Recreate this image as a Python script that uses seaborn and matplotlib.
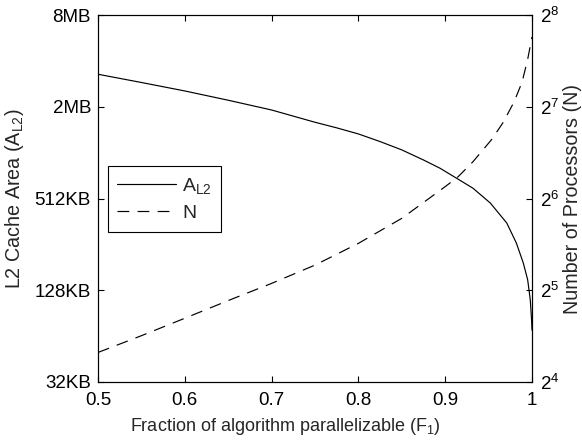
import matplotlib
matplotlib.use("Agg")
import matplotlib.pyplot as plt
import pandas as pd
import seaborn as sns

# L2 cache area (KB) versus the parallel fraction F1
f_cache = [0.50, 0.55, 0.60, 0.65, 0.70, 0.75, 0.775, 0.80, 0.825, 0.85,
           0.875, 0.894, 0.913, 0.932, 0.952, 0.971, 0.982, 0.990, 0.995,
           0.998, 0.9995, 1.0]
cache_kb = [3346, 2955, 2600, 2260, 1950, 1620, 1489, 1358, 1210, 1067,
            916, 809, 696, 598, 478, 353, 261, 193, 150,
            111, 82, 70]

# Number of processors versus the parallel fraction F1
f_proc = [0.50, 0.55, 0.60, 0.65, 0.70, 0.75, 0.80, 0.85, 0.90, 0.915,
          0.932, 0.9536, 0.9666, 0.9793, 0.9885, 0.995, 1.0]
n_proc = [20.0, 22.7, 25.9, 29.6, 33.7, 38.7, 45.6, 55.1, 70.0, 75.5,
          84.5, 100, 113.5, 132.7, 154, 183, 217]

x_ticks = [0.5, 0.6, 0.7, 0.8, 0.9, 1.0]
x_tick_labels = ["0.5", "0.6", "0.7", "0.8", "0.9", "1"]
cache_ticks_kb = [32, 128, 512, 2048, 8192]
cache_tick_labels = ["32KB", "128KB", "512KB", "2MB", "8MB"]
proc_exponents = [4, 5, 6, 7, 8]

sns.set_style("ticks")
plt.rcParams["font.family"] = ["Liberation Sans", "DejaVu Sans"]
plt.rcParams["mathtext.fontset"] = "custom"
plt.rcParams["mathtext.rm"] = "Liberation Sans"
plt.rcParams["mathtext.it"] = "Liberation Sans:italic"
plt.rcParams["mathtext.bf"] = "Liberation Sans:bold"
plt.rcParams["axes.linewidth"] = 0.8
plt.rcParams["axes.edgecolor"] = "black"

TICK_FS = 13.5
XLABEL_FS = 13
YLABEL_FS = 14.2
LEGEND_FS = 14

fig = plt.figure(figsize=(5.82, 4.43), dpi=100)
ax = fig.add_axes([98 / 582, 1 - 382 / 443, 434 / 582, 367 / 443])
ax2 = ax.twinx()

cache_df = pd.DataFrame({"F1": f_cache, "area": cache_kb})
proc_df = pd.DataFrame({"F1": f_proc, "N": n_proc})

sns.lineplot(data=cache_df, x="F1", y="area", ax=ax, color="black",
             lw=0.85, label=r"A$_{\mathregular{L2}}$", legend=False)
sns.lineplot(data=proc_df, x="F1", y="N", ax=ax2, color="black",
             lw=0.85, linestyle=(0, (10, 7)), label="N", legend=False)

ax.set_yscale("log", base=2)
ax.set_ylim(cache_ticks_kb[0], cache_ticks_kb[-1])
ax.set_xlim(x_ticks[0], x_ticks[-1])
ax.set_xticks(x_ticks)
ax.set_xticklabels(x_tick_labels, fontsize=TICK_FS)
ax.set_yticks(cache_ticks_kb)
ax.set_yticklabels(cache_tick_labels, fontsize=TICK_FS)
ax.minorticks_off()

ax2.set_yscale("log", base=2)
ax2.set_ylim(2 ** proc_exponents[0], 2 ** proc_exponents[-1])
ax2.set_yticks([2 ** e for e in proc_exponents])
ax2.set_yticklabels([rf"$\mathregular{{2^{{{e}}}}}$" for e in proc_exponents],
                    fontsize=TICK_FS)
ax2.minorticks_off()

ax.tick_params(axis="x", direction="in", length=4, width=0.8, top=True,
               pad=7, colors="black")
ax.tick_params(axis="y", direction="in", length=4, width=0.8, pad=5,
               colors="black")
ax2.tick_params(axis="y", direction="in", length=4, width=0.8, pad=6,
                colors="black")
for a in (ax, ax2):
    for s in a.spines.values():
        s.set_visible(True)
        s.set_color("black")
        s.set_linewidth(0.8)

ax.set_xlabel(r"Fraction of algorithm parallelizable (F$_{\mathregular{1}}$)",
              fontsize=XLABEL_FS)
ax.xaxis.set_label_coords(0.431, -0.093, transform=ax.transAxes)
ax.xaxis.label.set_va("top")
ax.set_ylabel(r"L2 Cache Area (A$_{\mathregular{L2}}$)", fontsize=YLABEL_FS)
ax.yaxis.set_label_coords(-0.166, 0.5, transform=ax.transAxes)
ax2.set_ylabel("Number of Processors (N)", fontsize=YLABEL_FS)
ax2.yaxis.set_label_coords(1.071, 0.5, transform=ax.transAxes)

handles = ax.get_lines() + ax2.get_lines()
leg = ax.legend(handles, [h.get_label() for h in handles],
                loc="upper left", bbox_to_anchor=(0.022, 0.589),
                borderaxespad=0, fontsize=LEGEND_FS, frameon=True,
                fancybox=False, framealpha=1, edgecolor="black",
                handlelength=3.0, handletextpad=0.33, borderpad=0.5,
                labelspacing=0.45)
leg.get_frame().set_linewidth(0.8)

fig.savefig("out.png", dpi=100)
